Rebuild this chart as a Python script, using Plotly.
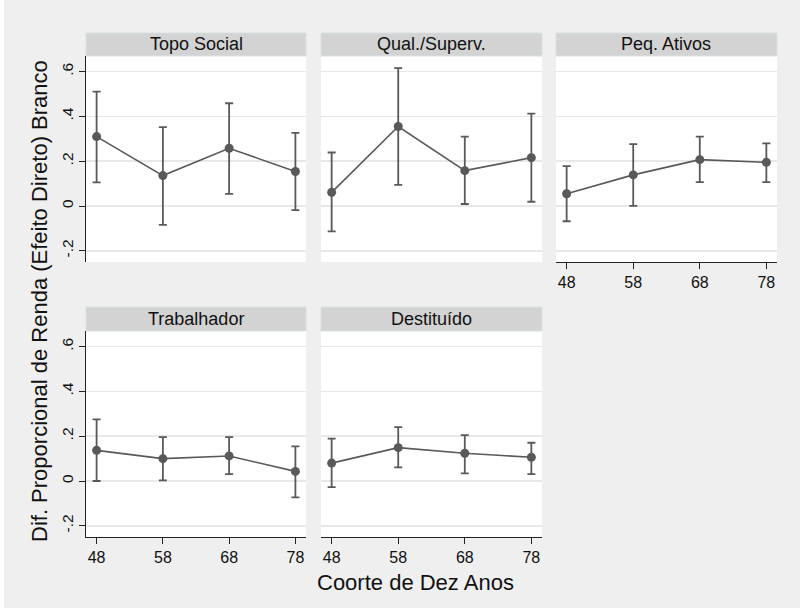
import plotly.graph_objects as go

W, H = 800, 609

cohorts = [48, 58, 68, 78]
panels = ["Topo Social", "Qual./Superv.", "Peq. Ativos", "Trabalhador", "Destituído"]

topo_est = [0.310, 0.136, 0.258, 0.154]
topo_hi = [0.511, 0.352, 0.459, 0.327]
topo_lo = [0.106, -0.084, 0.054, -0.018]

qual_est = [0.061, 0.355, 0.158, 0.216]
qual_hi = [0.239, 0.616, 0.310, 0.413]
qual_lo = [-0.113, 0.094, 0.009, 0.019]

peq_est = [0.055, 0.139, 0.207, 0.195]
peq_hi = [0.178, 0.276, 0.310, 0.280]
peq_lo = [-0.068, 0.001, 0.107, 0.107]

trab_est = [0.137, 0.100, 0.112, 0.043]
trab_hi = [0.275, 0.196, 0.196, 0.155]
trab_lo = [0.000, 0.003, 0.031, -0.073]

dest_est = [0.080, 0.149, 0.124, 0.106]
dest_hi = [0.189, 0.241, 0.205, 0.171]
dest_lo = [-0.027, 0.061, 0.034, 0.031]

y_ticks = [-0.2, 0, 0.2, 0.4, 0.6]
y_tick_text = ["-.2", "0", ".2", ".4", ".6"]

data = [
    (topo_est, topo_lo, topo_hi),
    (qual_est, qual_lo, qual_hi),
    (peq_est, peq_lo, peq_hi),
    (trab_est, trab_lo, trab_hi),
    (dest_est, dest_lo, dest_hi),
]

# pixel layout
cols_px = [(86, 306), (321, 542), (556, 777)]
rows_px = [(56, 262), (331, 537)]
strips_px = [(33, 56), (307, 331)]
positions = [(0, 0), (0, 1), (0, 2), (1, 0), (1, 1)]

FONT = "Liberation Sans, Arial, sans-serif"
MARK = "#595959"

fig = go.Figure()
shapes = []
annotations = []

# background (thin white border on left / bottom)
shapes.append(dict(type="rect", xref="paper", yref="paper",
                   x0=4 / W, x1=1, y0=1 / H, y1=1,
                   fillcolor="#efefef", line=dict(width=0), layer="below"))

for i, (name, (est, lo, hi)) in enumerate(zip(panels, data)):
    r, c = positions[i]
    n = i + 1
    xa = "xaxis" if n == 1 else f"xaxis{n}"
    ya = "yaxis" if n == 1 else f"yaxis{n}"
    xref = "x" if n == 1 else f"x{n}"
    yref = "y" if n == 1 else f"y{n}"
    x0, x1 = cols_px[c]
    y0, y1 = rows_px[r]
    xdom = [x0 / W, x1 / W]
    ydom = [1 - y1 / H, 1 - y0 / H]

    # plot area background
    shapes.append(dict(type="rect", xref="paper", yref="paper",
                       x0=xdom[0], x1=xdom[1], y0=ydom[0], y1=ydom[1],
                       fillcolor="white", line=dict(width=0), layer="below"))
    # strip
    s0, s1 = strips_px[r]
    shapes.append(dict(type="rect", xref="paper", yref="paper",
                       x0=xdom[0], x1=xdom[1], y0=1 - s1 / H, y1=1 - s0 / H,
                       fillcolor="#d3d3d3", line=dict(color="#d6e2e6", width=1)))
    annotations.append(dict(text=name, xref="paper", yref="paper",
                            x=(xdom[0] + xdom[1]) / 2, y=1 - (s0 + s1) / 2 / H,
                            showarrow=False, xanchor="center", yanchor="middle",
                            font=dict(family=FONT, size=18, color="#111")))

    fig.add_trace(go.Scatter(
        x=cohorts, y=est, xaxis=xref, yaxis=yref,
        mode="lines+markers",
        line=dict(color=MARK, width=1.6),
        marker=dict(color=MARK, size=9),
        error_y=dict(type="data", symmetric=False,
                     array=[h - e for h, e in zip(hi, est)],
                     arrayminus=[e - l for e, l in zip(est, lo)],
                     color=MARK, thickness=1.8, width=4),
        showlegend=False, hoverinfo="skip", cliponaxis=False))

    show_x = (r == 1) or (c == 2)
    show_y = (c == 0)
    fig.update_layout({
        xa: dict(domain=xdom, anchor=yref, range=[46.4, 79.6],
                 tickvals=cohorts, ticktext=[str(v) for v in cohorts],
                 showticklabels=show_x, ticks="outside" if show_x else "",
                 ticklen=6, tickcolor="#222", showline=show_x,
                 linecolor="#222", linewidth=1, showgrid=False, zeroline=False,
                 tickfont=dict(family=FONT, size=16, color="#111")),
        ya: dict(domain=ydom, anchor=xref, range=[-0.25, 0.67],
                 tickvals=y_ticks, ticktext=y_tick_text,
                 showticklabels=show_y, ticks="outside" if show_y else "",
                 ticklen=6, tickcolor="#222", tickangle=-90,
                 showline=show_y, linecolor="#222", linewidth=1,
                 showgrid=True, gridcolor="#e8e8e8", gridwidth=1.5,
                 zeroline=False,
                 tickfont=dict(family=FONT, size=15.5, color="#111")),
    })

annotations.append(dict(text="Dif. Proporcional de Renda (Efeito Direto) Branco",
                        xref="paper", yref="paper", x=40 / W, y=1 - 301 / H,
                        textangle=-90, showarrow=False,
                        xanchor="center", yanchor="middle",
                        font=dict(family=FONT, size=22, color="#111")))
annotations.append(dict(text="Coorte de Dez Anos",
                        xref="paper", yref="paper", x=415 / W, y=1 - 582 / H,
                        showarrow=False, xanchor="center", yanchor="middle",
                        font=dict(family=FONT, size=22, color="#111")))

fig.update_layout(width=W, height=H, margin=dict(l=0, r=0, t=0, b=0),
                  paper_bgcolor="white", plot_bgcolor="rgba(0,0,0,0)",
                  shapes=shapes, annotations=annotations,
                  font=dict(family=FONT), hovermode=False)

fig.write_html("out.html", config={"displayModeBar": False, "staticPlot": True},
               post_script="document.body.style.margin='0';document.body.style.padding='0';")
